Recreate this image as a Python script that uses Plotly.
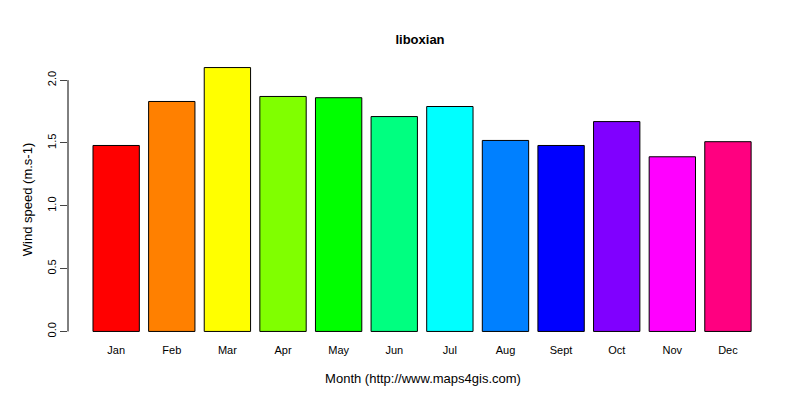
import plotly.graph_objects as go

months = ["Jan","Feb","Mar","Apr","May","Jun","Jul","Aug","Sept","Oct","Nov","Dec"]
values = [1.48,1.83,2.10,1.87,1.86,1.71,1.79,1.52,1.48,1.67,1.39,1.51]
colors = ["#FF0000","#FF8000","#FFFF00","#80FF00","#00FF00","#00FF80",
          "#00FFFF","#0080FF","#0000FF","#8000FF","#FF00FF","#FF0080"]
yticks = [0.0,0.5,1.0,1.5,2.0]
ytick_labels = ["0.0","0.5","1.0","1.5","2.0"]

x = list(range(len(months)))
fig = go.Figure(go.Bar(x=x, y=values, width=1/1.2, marker=dict(color=colors, line=dict(color="black", width=1))))
fnt = "Liberation Sans, Arial, sans-serif"
fig.update_layout(
    width=800, height=400, plot_bgcolor="white", paper_bgcolor="white",
    margin=dict(l=60, r=30, t=49, b=66),
    font=dict(family=fnt, size=11, color="black"),
    title=dict(text="<b>liboxian</b>", x=0.515, xanchor="center", y=1-31/400, yanchor="middle", font=dict(size=13)),
    showlegend=False,
    xaxis=dict(range=[-0.866, 11.9], tickvals=x, ticktext=months, ticks="", showline=False, automargin=False,
               showgrid=False, zeroline=False, title=dict(text="Month (http://www.maps4gis.com)", standoff=18)),
    yaxis=dict(range=[-0.084, 2.184], tickvals=yticks, ticktext=ytick_labels, tickangle=-90, automargin=False,
               ticks="outside", ticklen=7, showgrid=False, zeroline=False, showline=False,
               title=dict(text="Wind speed (m.s-1)", standoff=10)),
)
fig.add_shape(type="line", xref="paper", yref="y", x0=0, x1=0, y0=0, y1=2, line=dict(color="black", width=1))
fig.write_html("out.html")
